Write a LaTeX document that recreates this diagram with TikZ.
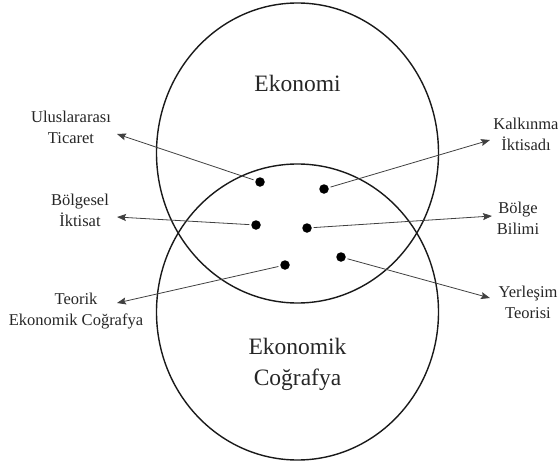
\documentclass[tikz,border=0pt]{standalone}
\usepackage{fontspec}
\setmainfont{Liberation Serif}
\usepackage{tikz}
\usetikzlibrary{arrows.meta}
\tikzset{
  dot/.style={circle, fill=black, inner sep=0, minimum size=9.5pt, outer sep=2pt},
  arr/.style={draw=black!75, line width=.8pt, -{Stealth[length=9pt,width=7pt,inset=1.5pt]}},
  lbl/.style={align=center, anchor=base, font=\fontsize{16.5}{21}\selectfont, text=black!85},
  big/.style={align=center, anchor=base, font=\fontsize{23.5}{31}\selectfont, text=black!85}
}

\begin{document}
\begin{tikzpicture}[x=1pt,y=-1pt]
\useasboundingbox (0,0) rectangle (558,466);
\draw[black!90,line width=1.4pt] (297.5,153) ellipse [x radius=141pt, y radius=150pt];
\draw[black!90,line width=1.4pt] (297.5,312) ellipse [x radius=141pt, y radius=148pt];

\node[big] (eko) at (297.5,91) {Ekonomi};
\node[big] (ekocog) at (297.5,385) {Ekonomik\\Coğrafya};

% labels (base = last line)
\node[lbl] (ut) at (71,143) {Uluslararası\\Ticaret};
\node[lbl] (bi) at (80,226) {Bölgesel\\İktisat};
\node[lbl] (tec) at (76,325) {Teorik\\Ekonomik Coğrafya};
\node[lbl] (ki) at (526,150) {Kalkınma\\İktisadı};
\node[lbl] (bb) at (518,234) {Bölge\\Bilimi};
\node[lbl] (yt) at (528,318) {Yerleşim\\Teorisi};

% arrow tips next to the labels
\coordinate (utTip) at (117,134);
\coordinate (biTip) at (117,217);
\coordinate (tecTip) at (117,303);
\coordinate (kiTip) at (490,140);
\coordinate (bbTip) at (492,216);
\coordinate (ytTip) at (490,298);

\foreach \n/\p in {d1/{(260,182)}, d2/{(324,189)}, d3/{(256,225)}, d4/{(307,228)}, d5/{(285,265)}, d6/{(341,257)}} {
  \node[dot] (\n) at \p {};
}

\foreach \a/\b in {d1/utTip, d2/kiTip, d3/biTip, d4/bbTip, d5/tecTip, d6/ytTip} {
  \draw[arr] (\a) -- (\b);
}
\end{tikzpicture}
\end{document}
